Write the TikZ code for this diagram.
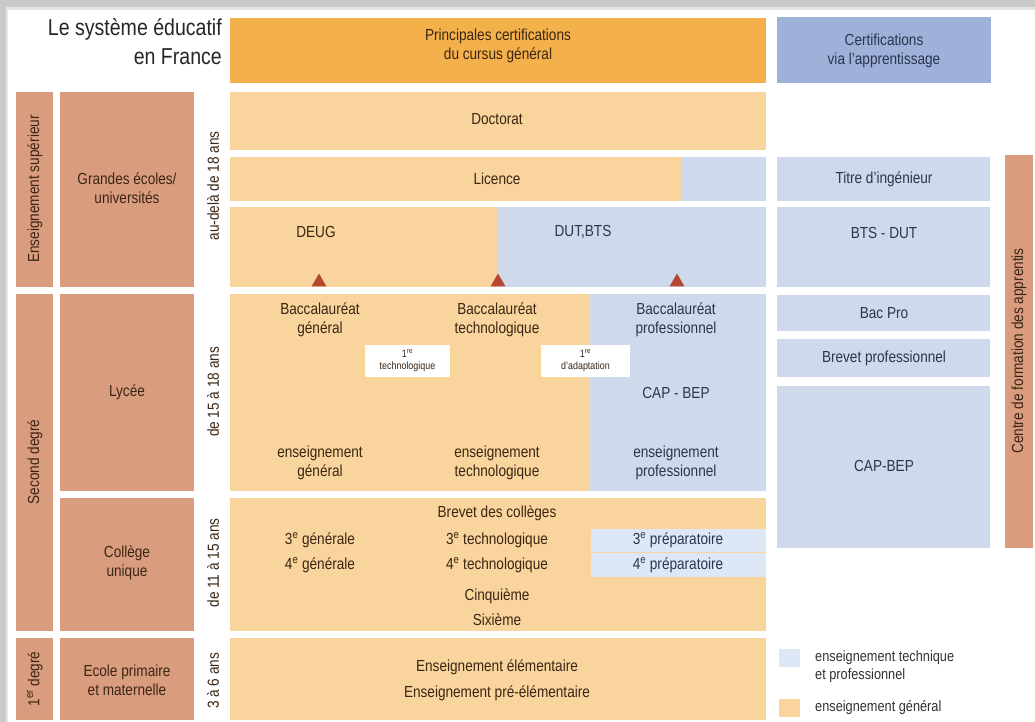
\documentclass[tikz,border=0pt]{standalone}
\usepackage{fontspec}
\setmainfont{Liberation Sans}[FakeStretch=0.85]
\usetikzlibrary{shapes.geometric}
\definecolor{hdrorange}{HTML}{F4B04A}
\definecolor{lorange}{HTML}{F9D49C}
\definecolor{hdrblue}{HTML}{9DB1D9}
\definecolor{lblue}{HTML}{CFD9EC}
\definecolor{vlblue}{HTML}{DDE7F5}
\definecolor{brownbox}{HTML}{D99C7E}
\definecolor{tribrown}{HTML}{B4472E}
\definecolor{txtbrown}{HTML}{3B2614}
\definecolor{txtblue}{HTML}{2C3550}
\definecolor{framegray}{HTML}{C9C9C9}
\newcommand\fsz{\fontsize{16}{19}\selectfont}
\newcommand\fsmall{\fontsize{10.5}{12}\selectfont}
\tikzset{
  lbl/.style={font=\fsz, align=center, text=txtbrown, inner sep=0pt},
  blbl/.style={font=\fsz, align=center, text=txtblue, inner sep=0pt},
  vlbl/.style={lbl, rotate=90},
  smallbox/.style={fill=white, font=\fsmall, align=center, text=txtbrown, inner sep=0pt, minimum height=32pt},
  trimark/.style={regular polygon, regular polygon sides=3, fill=tribrown, inner sep=0pt, minimum size=17pt},
  legsq/.style={minimum width=21pt, minimum height=18pt, inner sep=0pt},
  legtxt/.style={lbl, align=left, anchor=west, text=black!80, font=\fontsize{15}{18}\selectfont},
}
\begin{document}
\begin{tikzpicture}[x=1pt,y=-1pt]
\useasboundingbox (0,0) rectangle (1035,722);
\fill[white] (0,0) rectangle (1035,722);
% frame
\fill[framegray] (0,0) rectangle (1035,7);
\fill[framegray!50] (0,7) rectangle (1035,10);
\fill[framegray] (0,0) rectangle (6,722);
\fill[framegray!50] (6,10) rectangle (8,722);

% title
\node[font=\fontsize{23}{29}\selectfont, align=right, anchor=north east, text=black!85, inner sep=0pt] (title) at (222,18) {Le système éducatif\\en France};

% headers
\fill[hdrorange] (230,18) rectangle (766,83);
\fill[hdrblue] (777,17) rectangle (991,83);
\node[lbl] (hgen) at (498,46) {Principales certifications\\du cursus général};
\node[blbl] (happ) at (884,51) {Certifications\\via l'apprentissage};

% left columns
\fill[brownbox] (16,92) rectangle (53,287);
\fill[brownbox] (16,294) rectangle (53,631);
\fill[brownbox] (16,638) rectangle (53,720);
\fill[brownbox] (60,92) rectangle (194,287);
\fill[brownbox] (60,294) rectangle (194,491);
\fill[brownbox] (60,498) rectangle (194,631);
\fill[brownbox] (60,638) rectangle (194,720);
\node[vlbl] (sup) at (35,189) {Enseignement supérieur};
\node[vlbl] (sec) at (35,462) {Second degré};
\node[vlbl] (prim) at (35,679) {1\textsuperscript{er} degré};
\node[lbl] (ge) at (127,188) {Grandes écoles/\\universités};
\node[lbl] (lyc) at (127,392) {Lycée};
\node[lbl] (col) at (127,563) {Collège\\unique};
\node[lbl] (ecp) at (127,680) {Ecole primaire\\et maternelle};

% ages
\node[vlbl] (age1) at (213,186) {au-delà de 18 ans};
\node[vlbl] (age2) at (213,392) {de 15 à 18 ans};
\node[vlbl] (age3) at (213,563) {de 11 à 15 ans};
\node[vlbl] (age4) at (213,681) {3 à 6 ans};

% main area
\fill[lorange] (230,92) rectangle (766,150);
\fill[lorange] (230,157) rectangle (682,201);
\fill[lblue] (682,157) rectangle (766,201);
\fill[lorange] (230,207) rectangle (498,287);
\fill[lblue] (498,207) rectangle (766,287);
\fill[lorange] (230,294) rectangle (590,491);
\fill[lblue] (590,294) rectangle (766,491);
\fill[lorange] (230,498) rectangle (766,631);
\fill[vlblue] (591,529) rectangle (766,552);
\fill[vlblue] (591,553) rectangle (766,577);
\fill[lorange] (230,638) rectangle (766,720);

\node[lbl] (doct) at (497,119) {Doctorat};
\node[lbl] (lic) at (497,179) {Licence};
\node[lbl] (deug) at (316,232) {DEUG};
\node[blbl] (dut) at (583,232) {DUT,BTS};
\node[trimark] (t1) at (319,282) {};
\node[trimark] (t2) at (498,282) {};
\node[trimark] (t3) at (677,282) {};

\node[lbl] (bgen) at (320,320) {Baccalauréat\\général};
\node[lbl] (btec) at (497,320) {Baccalauréat\\technologique};
\node[blbl] (bpro) at (676,320) {Baccalauréat\\professionnel};
\node[smallbox, minimum width=85pt] (pt) at (407.5,361) {1\textsuperscript{re}\\technologique};
\node[smallbox, minimum width=89pt] (pa) at (585.5,361) {1\textsuperscript{re}\\d'adaptation};
\node[blbl] (capl) at (676,393) {CAP - BEP};
\node[lbl] (egen) at (320,463) {enseignement\\général};
\node[lbl] (etec) at (497,463) {enseignement\\technologique};
\node[blbl] (epro) at (676,463) {enseignement\\professionnel};

\node[lbl] (brev) at (497,513) {Brevet des collèges};
\node[lbl] (g3) at (320,540) {3\textsuperscript{e} générale};
\node[lbl] (t3e) at (497,540) {3\textsuperscript{e} technologique};
\node[blbl] (p3) at (678,540) {3\textsuperscript{e} préparatoire};
\node[lbl] (g4) at (320,565) {4\textsuperscript{e} générale};
\node[lbl] (t4e) at (497,565) {4\textsuperscript{e} technologique};
\node[blbl] (p4) at (678,565) {4\textsuperscript{e} préparatoire};
\node[lbl] (cinq) at (497,596) {Cinquième};
\node[lbl] (six) at (497,620) {Sixième};
\node[lbl] (elem) at (497,667) {Enseignement élémentaire};
\node[lbl] (pree) at (497,693) {Enseignement pré-élémentaire};

% right column
\fill[lblue] (777,157) rectangle (990,201);
\fill[lblue] (777,207) rectangle (990,287);
\fill[lblue] (777,295) rectangle (990,331);
\fill[lblue] (777,339) rectangle (990,377);
\fill[lblue] (777,386) rectangle (990,548);
\fill[brownbox] (1005,155) rectangle (1033,548);
\node[blbl] (ting) at (884,179) {Titre d'ingénieur};
\node[blbl] (btsd) at (884,233) {BTS - DUT};
\node[blbl] (bacp) at (884,313) {Bac Pro};
\node[blbl] (brvp) at (884,358) {Brevet professionnel};
\node[blbl] (capr) at (884,466) {CAP-BEP};
\node[vlbl] (cfa) at (1019,351) {Centre de formation des apprentis};

% legend
\node[legsq, fill=vlblue] (lsq1) at (789,658) {};
\node[legsq, fill=lorange] (lsq2) at (789,708) {};
\node[legtxt] (ltx1) at (815,667) {enseignement technique\\et professionnel};
\node[legtxt] (ltx2) at (815,708) {enseignement général};
\end{tikzpicture}
\end{document}
